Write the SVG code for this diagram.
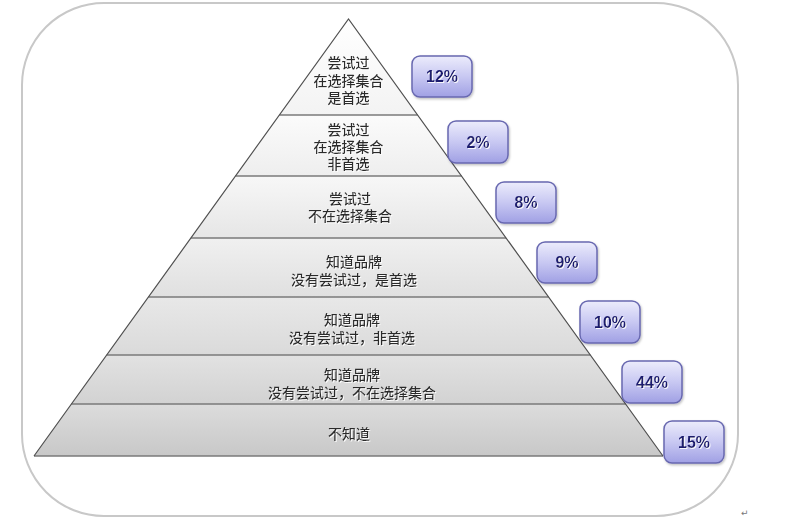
<svg xmlns="http://www.w3.org/2000/svg" width="797" height="525" viewBox="0 0 797 525">
<defs>
<linearGradient id="bx" x1="0" y1="0" x2="0" y2="1"><stop offset="0" stop-color="#ececfc"/><stop offset="0.5" stop-color="#c8c8f2"/><stop offset="1" stop-color="#a0a0e4"/></linearGradient>
<linearGradient id="g1" x1="0" y1="0" x2="0" y2="1"><stop offset="0" stop-color="#ffffff"/><stop offset="1" stop-color="#f3f3f3"/></linearGradient>
<linearGradient id="g2" x1="0" y1="0" x2="0" y2="1"><stop offset="0" stop-color="#fbfbfb"/><stop offset="1" stop-color="#eeeeee"/></linearGradient>
<linearGradient id="g3" x1="0" y1="0" x2="0" y2="1"><stop offset="0" stop-color="#f7f7f7"/><stop offset="1" stop-color="#e6e6e6"/></linearGradient>
<linearGradient id="g4" x1="0" y1="0" x2="0" y2="1"><stop offset="0" stop-color="#f0f0f0"/><stop offset="1" stop-color="#e0e0e0"/></linearGradient>
<linearGradient id="g5" x1="0" y1="0" x2="0" y2="1"><stop offset="0" stop-color="#e8e8e8"/><stop offset="1" stop-color="#dadada"/></linearGradient>
<linearGradient id="g6" x1="0" y1="0" x2="0" y2="1"><stop offset="0" stop-color="#e2e2e2"/><stop offset="1" stop-color="#d2d2d2"/></linearGradient>
<linearGradient id="g7" x1="0" y1="0" x2="0" y2="1"><stop offset="0" stop-color="#dcdcdc"/><stop offset="1" stop-color="#c8c8c8"/></linearGradient>
<filter id="glow" x="-10%" y="-30%" width="120%" height="160%"><feDropShadow dx="1" dy="1" stdDeviation="0.6" flood-color="#ffffff" flood-opacity="0.9"/></filter>
<filter id="bsh" x="-10%" y="-10%" width="130%" height="140%"><feDropShadow dx="1" dy="1.5" stdDeviation="1" flood-color="#000000" flood-opacity="0.25"/></filter>
</defs>
<style>
.layer{stroke:none}
.div{stroke:#7a7a7a;stroke-width:1.5;fill:none}
.side{stroke:#505050;stroke-width:1.2;fill:none}
.lbl{font-family:"Noto Sans CJK SC","Noto Sans CJK JP",sans-serif;font-size:14px;font-weight:500;fill:#2a2a2a;text-anchor:middle;filter:url(#glow)}
.box{fill:url(#bx);stroke:#6868b0;stroke-width:1.5;filter:url(#bsh)}
.pct{font-family:"Liberation Sans",Arial,sans-serif;font-size:16px;font-weight:bold;fill:#1c1c6e;text-anchor:middle;filter:url(#glow)}
</style>
<rect x="22" y="3" width="716" height="513" rx="82" ry="82" fill="#ffffff" stroke="#c8c8c8" stroke-width="2"/>
<g id="pyramid">
<polygon class="layer" fill="url(#g1)" points="348.5,19 417.6,115 279.4,115"/>
<polygon class="layer" fill="url(#g2)" points="279.4,115 417.6,115 461.5,176 235.5,176"/>
<polygon class="layer" fill="url(#g3)" points="235.5,176 461.5,176 506.1,238 190.9,238"/>
<polygon class="layer" fill="url(#g4)" points="190.9,238 506.1,238 548.6,297 148.4,297"/>
<polygon class="layer" fill="url(#g5)" points="148.4,297 548.6,297 590.3,355 106.7,355"/>
<polygon class="layer" fill="url(#g6)" points="106.7,355 590.3,355 625.6,404 71.4,404"/>
<polygon class="layer" fill="url(#g7)" points="71.4,404 625.6,404 663,456 34,456"/>
<line class="div" x1="279.4" y1="115" x2="417.6" y2="115"/>
<line class="div" x1="235.5" y1="176" x2="461.5" y2="176"/>
<line class="div" x1="190.9" y1="238" x2="506.1" y2="238"/>
<line class="div" x1="148.4" y1="297" x2="548.6" y2="297"/>
<line class="div" x1="106.7" y1="355" x2="590.3" y2="355"/>
<line class="div" x1="71.4" y1="404" x2="625.6" y2="404"/>
<line class="div" x1="34" y1="456" x2="663" y2="456" stroke="#6a6a6a" stroke-width="2"/>
<polyline class="side" points="34,456 348.5,19 663,456"/>
</g>
<g id="labels">
<text class="lbl" x="348.5" y="68">尝试过</text>
<text class="lbl" x="348.5" y="86">在选择集合</text>
<text class="lbl" x="348.5" y="103">是首选</text>
<text class="lbl" x="348.5" y="135">尝试过</text>
<text class="lbl" x="348.5" y="152">在选择集合</text>
<text class="lbl" x="348.5" y="169">非首选</text>
<text class="lbl" x="350" y="204">尝试过</text>
<text class="lbl" x="350" y="221">不在选择集合</text>
<text class="lbl" x="354" y="267">知道品牌</text>
<text class="lbl" x="354" y="285">没有尝试过，是首选</text>
<text class="lbl" x="352" y="325">知道品牌</text>
<text class="lbl" x="352" y="343">没有尝试过，非首选</text>
<text class="lbl" x="352" y="380">知道品牌</text>
<text class="lbl" x="352" y="398">没有尝试过，不在选择集合</text>
<text class="lbl" x="349" y="439">不知道</text>
</g>
<g id="boxes">
<g id="b12"><rect class="box" x="412" y="56" width="60" height="41" rx="8"/><text class="pct" x="442" y="82">12%</text></g>
<g id="b2"><rect class="box" x="448" y="121" width="60" height="42" rx="8"/><text class="pct" x="478" y="148">2%</text></g>
<g id="b8"><rect class="box" x="496" y="182" width="60" height="41" rx="8"/><text class="pct" x="526" y="208">8%</text></g>
<g id="b9"><rect class="box" x="537" y="242" width="60" height="41" rx="8"/><text class="pct" x="567" y="268">9%</text></g>
<g id="b10"><rect class="box" x="580" y="301" width="60" height="42" rx="8"/><text class="pct" x="610" y="328">10%</text></g>
<g id="b44"><rect class="box" x="622" y="361" width="60" height="42" rx="8"/><text class="pct" x="652" y="388">44%</text></g>
<g id="b15"><rect class="box" x="664" y="421" width="60" height="42" rx="8"/><text class="pct" x="694" y="448">15%</text></g>
</g>
<text x="741" y="516" font-family="DejaVu Sans,sans-serif" font-size="9" fill="#777777">↵</text>
</svg>
